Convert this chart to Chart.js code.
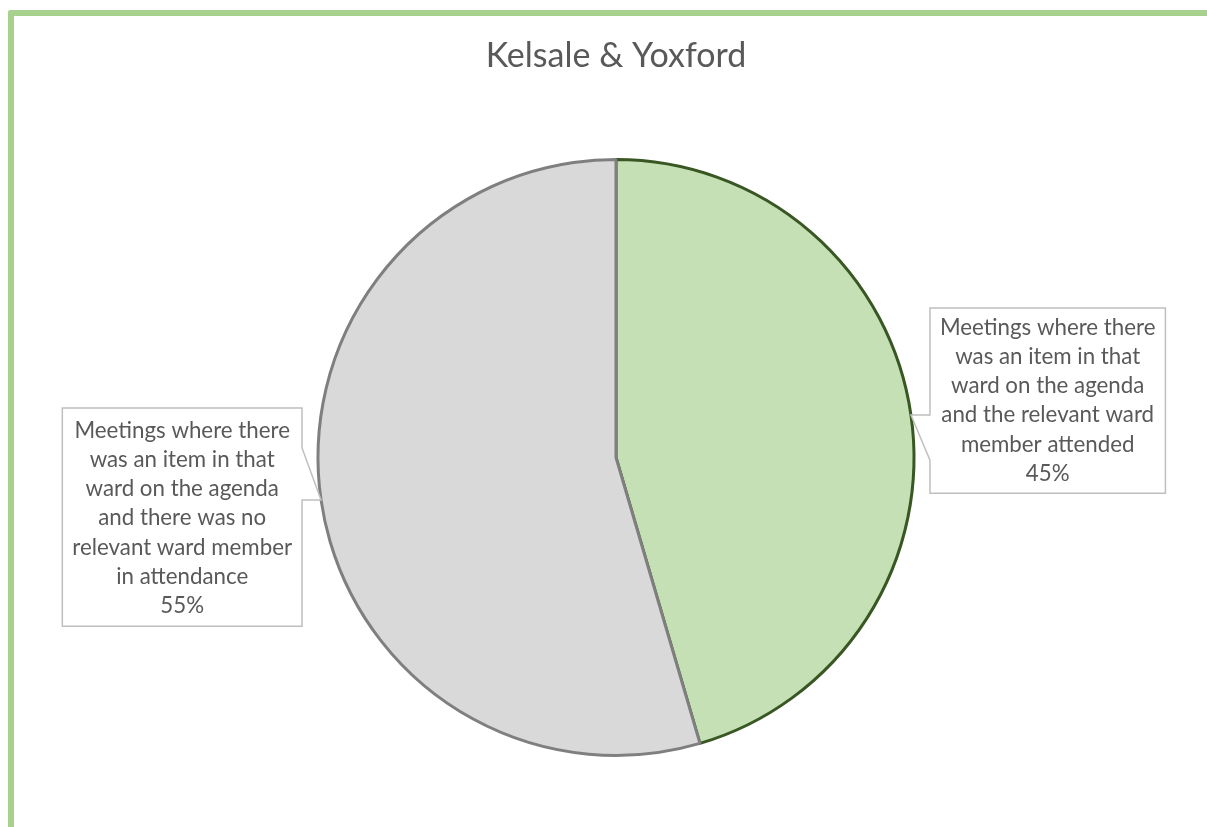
<!DOCTYPE html>
<html>
<head>
<meta charset="utf-8">
<script src="https://cdn.jsdelivr.net/npm/chart.js@4/dist/chart.umd.min.js"></script>
<style>
  html, body { margin: 0; padding: 0; background: #ffffff; overflow: hidden; }
  #wrap { position: relative; width: 1207px; height: 827px; }
  #frame { position: absolute; left: 8px; top: 10px; width: 1300px; height: 900px;
           border-left: 6px solid #a9d18e; border-top: 6px solid #a9d18e; border-top-left-radius: 3px; }
  canvas { position: absolute; left: 0; top: 0; }
</style>
</head>
<body>
<div id="wrap">
  <div id="frame"></div>
  <canvas id="c" width="1207" height="827"></canvas>
</div>
<script>
const chartTitle = "Kelsale & Yoxford";
const categories = [
  "Meetings where there was an item in that ward on the agenda and the relevant ward member attended",
  "Meetings where there was an item in that ward on the agenda and there was no relevant ward member in attendance"
];
const labelLines = [
  ["Meetings where there", "was an item in that", "ward on the agenda", "and the relevant ward", "member attended"],
  ["Meetings where there", "was an item in that", "ward on the agenda", "and there was no", "relevant ward member", "in attendance"]
];
// meeting counts (shown as 45% / 55%)
const values = [5, 6];
const fillColors = ["#c5e0b4", "#d9d9d9"];
const borderColors = ["#385723", "#7f7f7f"];

const FONT = "Lato, 'Open Sans', sans-serif";
const TEXT_COLOR = "#595959";

const calloutPlugin = {
  id: 'callouts',
  afterDatasetsDraw(chart) {
    const ctx = chart.ctx;
    const meta = chart.getDatasetMeta(0);
    const total = values.reduce((a, b) => a + b, 0);
    const fontSize = 22.3;
    const lh = 29.2;
    ctx.save();
    ctx.font = fontSize + "px " + FONT;
    meta.data.forEach((arc, i) => {
      const p = arc.getProps(['x', 'y', 'startAngle', 'endAngle', 'outerRadius'], true);
      const mid = (p.startAngle + p.endAngle) / 2;
      const tx = p.x + Math.cos(mid) * p.outerRadius;
      const ty = p.y + Math.sin(mid) * p.outerRadius;
      const lines = labelLines[i].concat([Math.round(values[i] / total * 100) + "%"]);
      let maxW = 0;
      lines.forEach(l => { maxW = Math.max(maxW, ctx.measureText(l).width); });
      const w = maxW + 20;
      const right = Math.cos(mid) >= 0;
      const padTop = right ? 5 : 8;
      const h = lines.length * lh + (right ? 10 : 14);
      let L, T, R, B;
      ctx.beginPath();
      if (right) {
        L = tx + 19; T = ty - 107; R = L + w; B = T + h;
        ctx.moveTo(L, T); ctx.lineTo(R, T); ctx.lineTo(R, B); ctx.lineTo(L, B);
        ctx.lineTo(L, ty + 45); ctx.lineTo(tx, ty); ctx.lineTo(L, ty); ctx.closePath();
      } else {
        R = tx - 19; T = ty - 92; L = R - w; B = T + h;
        ctx.moveTo(L, T); ctx.lineTo(R, T); ctx.lineTo(R, ty - 52); ctx.lineTo(tx, ty);
        ctx.lineTo(R, ty); ctx.lineTo(R, B); ctx.lineTo(L, B); ctx.closePath();
      }
      ctx.fillStyle = "#ffffff";
      ctx.fill();
      ctx.strokeStyle = "#bfbfbf";
      ctx.lineWidth = 1.5;
      ctx.stroke();
      ctx.fillStyle = TEXT_COLOR;
      ctx.textAlign = "center";
      ctx.textBaseline = "middle";
      const cx = (L + R) / 2;
      lines.forEach((l, k) => {
        ctx.fillText(l, cx, T + padTop + lh * (k + 0.5));
      });
    });
    ctx.restore();
  }
};

new Chart(document.getElementById('c'), {
  type: 'pie',
  data: {
    labels: categories,
    datasets: [{
      data: values,
      backgroundColor: fillColors,
      borderColor: borderColors,
      borderWidth: 3,
      radius: 298
    }]
  },
  options: {
    responsive: false,
    animation: false,
    layout: { padding: { left: 25, right: 0, top: 0, bottom: 0 } },
    plugins: {
      legend: { display: false },
      tooltip: { enabled: false },
      title: {
        display: true,
        text: chartTitle,
        color: TEXT_COLOR,
        font: { family: FONT, size: 34, weight: 'normal', lineHeight: 1.2 },
        padding: { top: 36, bottom: 11.2 }
      }
    }
  },
  plugins: [calloutPlugin]
});
</script>
</body>
</html>
